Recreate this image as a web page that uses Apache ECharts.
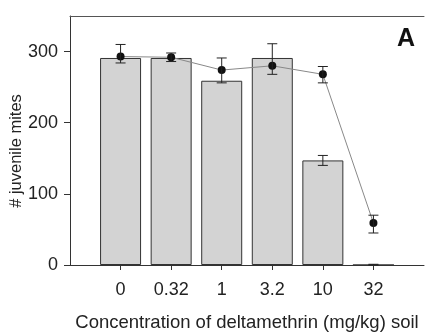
<!DOCTYPE html>
<html>
<head>
<meta charset="utf-8">
<script src="https://cdn.jsdelivr.net/npm/echarts@6/dist/echarts.min.js"></script>
<style>
  html, body { margin: 0; padding: 0; background: #fff; }
  #chart { width: 425px; height: 332px; }
</style>
</head>
<body>
<div id="chart"></div>
<script>
// padded with empty slots so the first and last ticks sit off the frame
const categories = ['', '0', '0.32', '1', '3.2', '10', '32', '']
const barValues = [null, 291, 291, 259, 291, 147, 0, null]
const pointValues = [null, 293, 292, 274, 280, 268, 59, null]
const pointHigh = [null, 310, 298, 291, 311, 279, 70, null]
const pointLow = [null, 284, 286, 256, 268, 256, 45, null]
// error bars that belong to the bars themselves
const barErrIndex = [5, 6]
const barErrHigh = [154, 1]
const barErrLow = [140, 0]
const yTicks = [0, 100, 200, 300]

const font = 'Liberation Sans, Arial, sans-serif'
const chart = echarts.init(document.getElementById('chart'))

function errorBar(params, api) {
  const lo = api.coord([api.value(0), api.value(1)])
  const hi = api.coord([api.value(0), api.value(2)])
  const w = 5
  const style = { stroke: '#222', lineWidth: 1 }
  return {
    type: 'group',
    children: [
      { type: 'line', shape: { x1: lo[0], y1: lo[1], x2: hi[0], y2: hi[1] }, style: style },
      { type: 'line', shape: { x1: lo[0] - w, y1: lo[1], x2: lo[0] + w, y2: lo[1] }, style: style },
      { type: 'line', shape: { x1: hi[0] - w, y1: hi[1], x2: hi[0] + w, y2: hi[1] }, style: style }
    ]
  }
}

const pointErr = []
pointValues.forEach((v, i) => {
  if (v !== null) pointErr.push([i, pointLow[i], pointHigh[i]])
})
const barErr = barErrIndex.map((idx, i) => [idx, barErrLow[i], barErrHigh[i]])

const option = {
  animation: false,
  grid: { left: 70, top: 16, right: 1, bottom: 67, outerBoundsMode: 'none' },
  xAxis: [{
    type: 'category',
    data: categories,
    boundaryGap: false,
    axisLine: { lineStyle: { color: '#333', width: 1 } },
    axisTick: {
      length: 5,
      lineStyle: { color: '#333' },
      interval: (idx, val) => val !== ''
    },
    axisLabel: {
      interval: 0,
      color: '#222',
      fontSize: 18,
      fontFamily: font,
      margin: 16
    },
    name: 'Concentration of deltamethrin (mg/kg) soil',
    nameLocation: 'middle',
    nameGap: 48,
    nameTextStyle: { color: '#222', fontSize: 18.5, fontFamily: font }
  }, {
    type: 'category',
    data: categories,
    position: 'top',
    boundaryGap: false,
    axisLine: { lineStyle: { color: '#555', width: 1 } },
    axisTick: { show: false },
    axisLabel: { show: false }
  }],
  yAxis: {
    type: 'value',
    min: 0,
    max: 350,
    interval: 50,
    splitLine: { show: false },
    axisLine: { show: true, lineStyle: { color: '#333', width: 1 } },
    axisTick: { show: true, length: 6, lineStyle: { color: '#333' }, customValues: yTicks },
    axisLabel: {
      color: '#222',
      fontSize: 18,
      fontFamily: font,
      margin: 12,
      customValues: yTicks
    }
  },
  series: [{
    type: 'bar',
    data: barValues,
    barWidth: 41,
    itemStyle: { color: '#d3d3d3', borderColor: '#333', borderWidth: 1 }
  }, {
    type: 'custom',
    data: barErr,
    renderItem: errorBar,
    z: 3
  }, {
    type: 'line',
    data: pointValues,
    symbol: 'circle',
    symbolSize: 8,
    lineStyle: { color: '#888', width: 1 },
    itemStyle: { color: '#111' },
    z: 4
  }, {
    type: 'custom',
    data: pointErr,
    renderItem: errorBar,
    z: 5
  }],
  graphic: [{
    type: 'text',
    left: 397,
    top: 27,
    style: { text: 'A', fill: '#111', font: 'bold 25px ' + font }
  }, {
    // y axis title, placed by hand so it sits below the plot centre like the original
    type: 'text',
    x: 16,
    y: 151,
    rotation: Math.PI / 2,
    style: {
      text: '# juvenile mites',
      fill: '#222',
      font: '16.5px ' + font,
      align: 'center',
      verticalAlign: 'middle'
    }
  }]
}

option && chart.setOption(option)
</script>
</body>
</html>
